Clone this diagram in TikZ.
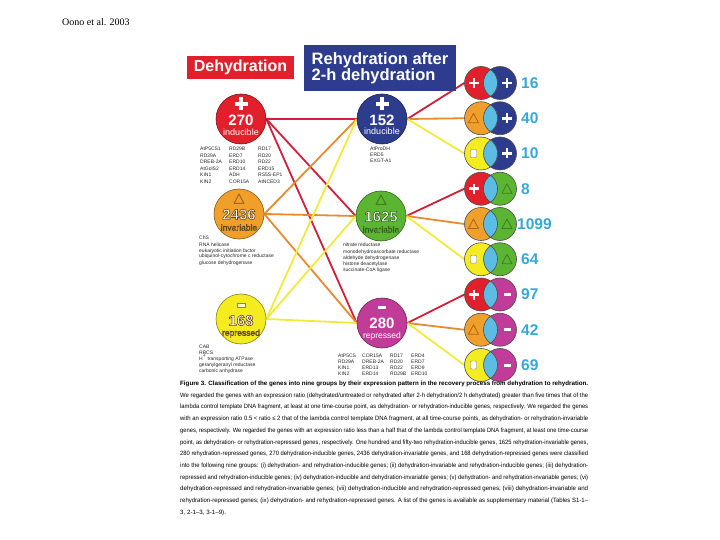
\documentclass[tikz,border=0pt]{standalone}
\usepackage{graphicx}
\usepackage{fontspec}
\setmainfont{Liberation Sans}
\newfontfamily\serfont{Liberation Serif}
\definecolor{cred}{HTML}{E2202C}
\definecolor{corange}{HTML}{F0A02A}
\definecolor{cyellow}{HTML}{F4EC1E}
\definecolor{cblue}{HTML}{2E3C8E}
\definecolor{cgreen}{HTML}{5CB532}
\definecolor{cmag}{HTML}{C13C98}
\definecolor{clens}{HTML}{5BBDE4}
\definecolor{clabel}{HTML}{35A8D8}
\definecolor{lred}{HTML}{D41E3A}
\definecolor{lorange}{HTML}{E88A2E}
\definecolor{lyellow}{HTML}{F2EA3A}
\definecolor{tribrown}{HTML}{A8661A}
\definecolor{trigreen}{HTML}{3C7E22}
\definecolor{halo}{HTML}{6A4A10}
\pgfdeclarelayer{bg}
\pgfsetlayers{bg,main}
\newcommand\fs[1]{\fontsize{#1}{#1}\selectfont}
\newcommand\tri[4]{\draw[#4, line width=#3, line join=round, shift={(#1,#2)}] (-5,4.5) -- (0,-5) -- (5,4.5) -- cycle;}
\newcommand\plus[4]{\draw[white, line width=#4, shift={(#1,#2)}] (-#3,0) -- (#3,0) (0,-#3) -- (0,#3);}
% white text with a dark outline (fill then stroke)
\newcommand\outl[3]{\special{pdf:literal direct #1 RG #2 w 2 Tr}#3\special{pdf:literal direct 0 Tr}}
\newcommand\capl[1]{\resizebox{408pt}{\height}{#1}}
\tikzset{
  bigc/.style={circle, minimum size=50pt, inner sep=0pt, draw=#1!55!black, line width=0.6pt, fill=#1},
  smallc/.style={circle, minimum size=33pt, inner sep=0pt, fill=#1},
  conn/.style={line width=1.8pt, #1},
  gene/.style={anchor=base west, inner sep=0pt, font=\fs{5}, text=black!85},
  num/.style={font=\bfseries\fs{15}, text=white, inner sep=0pt},
  word/.style={font=\fs{9}, text=white, inner sep=0pt},
  cnt/.style={anchor=west, font=\bfseries\fs{15.5}, text=clabel, inner sep=0pt},
  capline/.style={anchor=base west, inner sep=0pt, font=\fs{6.2}},
}
\begin{document}
\begin{tikzpicture}[x=1pt,y=-1pt]
\useasboundingbox (0,0) rectangle (720,540);
% title
\node[anchor=west, font=\serfont\fs{10}, inner sep=0pt] (cite) at (62,22) {Oono et al. 2003};
\node[fill=cred, text=white, font=\bfseries\fs{16}, minimum width=107pt, minimum height=23pt, inner sep=0pt] (hdeh) at (240.5,67.5) {Dehydration};
\node[fill=cblue, text=white, font=\bfseries\fs{16.5}, minimum width=152pt, minimum height=46pt, inner sep=0pt, align=left] (hreh) at (380,68) {\baselineskip=18.5pt Rehydration after\\2-h dehydration};
% big circles
\node[bigc=cred] (Lr) at (241,119) {};
\node[bigc=corange] (Lo) at (239,214) {};
\node[bigc=cyellow] (Ly) at (241,319) {};
\node[bigc=cblue] (Mb) at (382,119) {};
\node[bigc=cgreen] (Mg) at (381,216) {};
\node[bigc=cmag] (Mm) at (382,323) {};
% pairs
\foreach \i/\cl/\cr in {1/cred/cblue,2/corange/cblue,3/cyellow/cblue,4/cred/cgreen,5/corange/cgreen,6/cyellow/cgreen,7/cred/cmag,8/corange/cmag,9/cyellow/cmag}{
  \pgfmathsetmacro\yy{83+35.25*(\i-1)}
  \node[smallc=\cr] (P\i r) at (500,\yy) {};
  \node[smallc=\cl] (P\i) at (481,\yy) {};
  \begin{scope}
    \clip (481,\yy) circle (16.5);
    \fill[clens] (500,\yy) circle (16.5);
  \end{scope}
  \draw[black!70, line width=0.6pt] (481,\yy) circle (16.5) (500,\yy) circle (16.5);
}
% connectors
\begin{pgfonlayer}{bg}
\foreach \s/\c in {Lr/lred,Lo/lorange,Ly/lyellow}{
  \foreach \t in {Mb,Mg,Mm}{\draw[conn=\c] (\s.east) -- (\t.west);}}
\draw[conn=lred] (Mb.east) -- (P1.west);
\draw[conn=lorange] (Mb.east) -- (P2.west);
\draw[conn=lyellow] (Mb.east) -- (P3.west);
\draw[conn=lred] (Mg.east) -- (P4.west);
\draw[conn=lorange] (Mg.east) -- (P5.west);
\draw[conn=lyellow] (Mg.east) -- (P6.west);
\draw[conn=lred] (Mm.east) -- (P7.west);
\draw[conn=lorange] (Mm.east) -- (P8.west);
\draw[conn=lyellow] (Mm.east) -- (P9.west);
\end{pgfonlayer}
% big circle contents
\plus{241}{104}{6.5}{3.6pt}
\node[num] (nLr) at (241,120.5) {270};
\node[word] (wLr) at (241,132.5) {inducible};
\plus{382}{104}{6.5}{3.6pt}
\node[num] (nMb) at (382,120) {152};
\node[word] (wMb) at (382,131.5) {inducible};
\tri{239}{199}{1pt}{tribrown}
\node[num] (nLo) at (239,214.5) {\outl{0.42 0.29 0.06}{0.6}{2436}};
\node[word, font=\fs{8.5}] (wLo) at (239,227.5) {\outl{0.42 0.29 0.06}{0.45}{invariable}};
\tri{381}{200}{1pt}{trigreen}
\node[num] (nMg) at (381,216.5) {\outl{0.2 0.4 0.1}{0.6}{1625}};
\node[word, font=\fs{8.5}] (wMg) at (381,229.5) {\outl{0.2 0.4 0.1}{0.45}{invariable}};
\draw[fill=white!80!cyellow, line width=0.5pt, draw=halo!70] (237,303) rectangle (245,307.5);
\node[num] (nLy) at (241,320.5) {\outl{0.42 0.29 0.06}{0.6}{168}};
\node[word, font=\fs{8.5}] (wLy) at (241,333.5) {\outl{0.42 0.29 0.06}{0.45}{repressed}};
\fill[white] (378,306) rectangle (386,309);
\node[num] (nMm) at (382,323) {280};
\node[word, font=\fs{8.5}] (wMm) at (382,336.5) {repressed};
% pair symbols
\foreach \i in {1,4,7}{\pgfmathsetmacro\yy{83+35.25*(\i-1)}
  \plus{474}{\yy}{5}{2.6pt}}
\foreach \i in {1,2,3}{\pgfmathsetmacro\yy{83+35.25*(\i-1)}
  \plus{507}{\yy}{5}{2.6pt}}
\foreach \i in {2,5,8}{\pgfmathsetmacro\yy{83+35.25*(\i-1)}
  \tri{473.5}{\yy}{0.8pt}{tribrown}}
\foreach \i in {4,5,6}{\pgfmathsetmacro\yy{83+35.25*(\i-1)}
  \tri{507}{\yy}{0.8pt}{trigreen}}
\foreach \i in {3,6,9}{\pgfmathsetmacro\yy{83+35.25*(\i-1)}
  \draw[fill=white, draw=black!50, line width=0.4pt, rounded corners=1pt] (470.5,\yy-4) rectangle (476.5,\yy+4);}
\foreach \i in {7,8,9}{\pgfmathsetmacro\yy{83+35.25*(\i-1)}
  \fill[white] (503.5,\yy-1.5) rectangle (510.5,\yy+1.5);}
% counts
\node[cnt] (n1) at (521,83) {16};
\node[cnt] (n2) at (521,118.25) {40};
\node[cnt] (n3) at (521,153.5) {10};
\node[cnt] (n4) at (521,188.75) {8};
\node[cnt] (n5) at (517,224) {1099};
\node[cnt] (n6) at (521,259.25) {64};
\node[cnt] (n7) at (521,294.5) {97};
\node[cnt] (n8) at (521,329.75) {42};
\node[cnt] (n9) at (521,365) {69};
% gene lists
\foreach \y/\a/\b/\c in {151/AtP5CS1/RD29B/RD17, 157.5/RD29A/ERD7/RD20, 164/DREB-2A/ERD10/RD22, 170.5/AtGolS2/ERD14/ERD15, 177/KIN1/ADH/RS5S-EP1, 183.5/KIN2/COR15A/AtNCED3}{
  \node[gene] at (200,\y) {\a}; \node[gene] at (229,\y) {\b}; \node[gene] at (258,\y) {\c};}
\foreach \y/\t in {240/ChS, 246/RNA helicase, 252/eukaryotic initiation factor, 258/ubiquinol-cytochrome c reductase, 264/glucose dehydrogenase}{
  \node[gene] at (199,\y) {\t};}
\foreach \y/\t in {348/CAB, 354/RBCS, 360/H\textsuperscript{+} transporting ATPase, 366/geranylgeranyl reductase, 372/carbonic anhydrase}{
  \node[gene] at (199,\y) {\t};}
\foreach \y/\t in {151/AtProDH, 157/ERD5, 163/EXGT-A1}{
  \node[gene] at (370,\y) {\t};}
\foreach \y/\t in {247/nitrate reductase, 253/monodehydroascorbate reductase, 259/aldehyde dehydrogenase, 265/histone deacetylase, 271/succinate-CoA ligase}{
  \node[gene] at (343,\y) {\t};}
\foreach \y/\a/\b/\c/\d in {357.5/AtP5CS/COR15A/RD17/ERD4, 363.5/RD29A/DREB-2A/RD20/ERD7, 369.5/KIN1/ERD13/RD22/ERD9, 375.5/KIN2/ERD14/RD29B/ERD10}{
  \node[gene] at (338,\y) {\a}; \node[gene] at (362,\y) {\b}; \node[gene] at (390,\y) {\c}; \node[gene] at (411,\y) {\d};}
% caption
\node[capline] (c1) at (180,385.5) {\capl{\bfseries Figure 3. Classification of the genes into nine groups by their expression pattern in the recovery process from dehydration to rehydration.}};
\node[capline] (c2) at (180,397.2) {\capl{We regarded the genes with an expression ratio (dehydrated/untreated or rehydrated after 2-h dehydration/2 h dehydrated) greater than five times that of the}};
\node[capline] (c3) at (180,408.9) {\capl{lambda control template DNA fragment, at least at one time-course point, as dehydration- or rehydration-inducible genes, respectively. We regarded the genes}};
\node[capline] (c4) at (180,420.6) {\capl{with an expression ratio 0.5 < ratio ≤ 2 that of the lambda control template DNA fragment, at all time-course points, as dehydration- or rehydration-invariable}};
\node[capline] (c5) at (180,432.3) {\capl{genes, respectively. We regarded the genes with an expression ratio less than a half that of the lambda control template DNA fragment, at least one time-course}};
\node[capline] (c6) at (180,444) {\capl{point, as dehydration- or rehydration-repressed genes, respectively. One hundred and fifty-two rehydration-inducible genes, 1625 rehydration-invariable genes,}};
\node[capline] (c7) at (180,455.7) {\capl{280 rehydration-repressed genes, 270 dehydration-inducible genes, 2436 dehydration-invariable genes, and 168 dehydration-repressed genes were classified}};
\node[capline] (c8) at (180,467.4) {\capl{into the following nine groups: (i) dehydration- and rehydration-inducible genes; (ii) dehydration-invariable and rehydration-inducible genes; (iii) dehydration-}};
\node[capline] (c9) at (180,479.1) {\capl{repressed and rehydration-inducible genes; (iv) dehydration-inducible and dehydration-invariable genes; (v) dehydration- and rehydration-invariable genes; (vi)}};
\node[capline] (c10) at (180,490.8) {\capl{dehydration-repressed and rehydration-invariable genes; (vii) dehydration-inducible and rehydration-repressed genes; (viii) dehydration-invariable and}};
\node[capline] (c11) at (180,502.5) {\capl{rehydration-repressed genes; (ix) dehydration- and rehydration-repressed genes. A list of the genes is available as supplementary material (Tables S1-1–}};
\node[capline] (c12) at (180,514.2) {3, 2-1–3, 3-1–9).};
\end{tikzpicture}
\end{document}
